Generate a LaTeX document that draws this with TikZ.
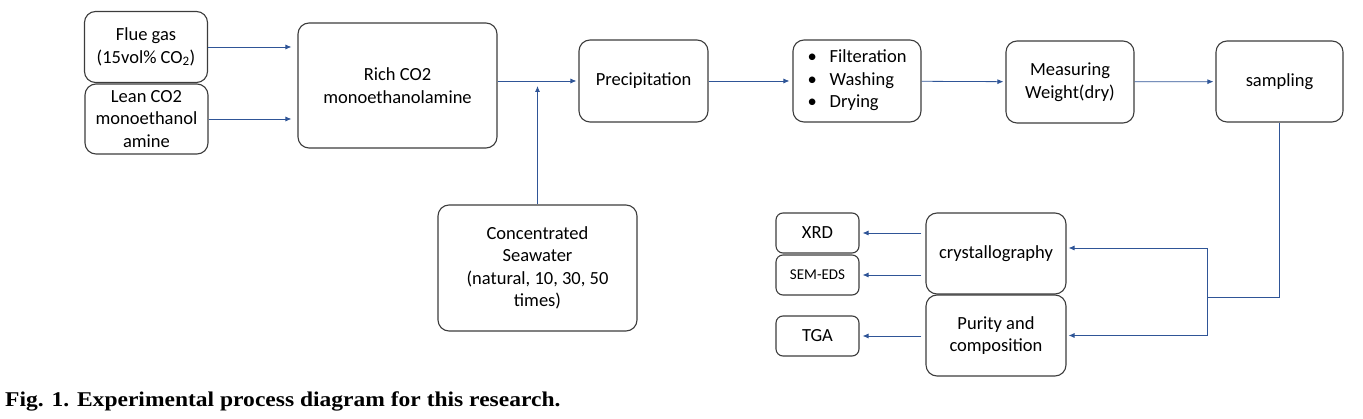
\documentclass[tikz,border=0pt]{standalone}
\usepackage{fontspec}
\setmainfont{Carlito}
\newfontfamily\capfont{Liberation Serif}
\usepackage{tikz}
\usetikzlibrary{arrows.meta,calc}
\definecolor{flowblue}{RGB}{47,85,151}
\definecolor{edge}{RGB}{60,60,60}
\tikzset{
  box/.style={draw=edge, line width=1.1pt, rounded corners=11pt, align=center, inner sep=2pt,
    font=\fontsize{18.5}{22.5}\selectfont},
  sbox/.style={box, rounded corners=7pt, minimum width=83pt, minimum height=40pt},
  flow/.style={-{Latex[length=6pt,width=5pt]}, line width=0.8pt, flowblue},
  wire/.style={line width=0.8pt, flowblue},
}

\begin{document}
\begin{tikzpicture}[x=1pt,y=-1pt]
  \useasboundingbox (0,0) rectangle (1363,419);
  \node[box, minimum width=123pt, minimum height=71pt] (flue) at (146,47) {Flue gas\\(15vol\% CO\textsubscript{2})};
  \node[box, minimum width=123pt, minimum height=70pt] (lean) at (146.5,119) {Lean CO2\\monoethanol\\amine};
  \node[box, minimum width=199pt, minimum height=125pt] (rich) at (397.5,85.5) {Rich CO2\\monoethanolamine};
  \node[box, minimum width=199pt, minimum height=126pt] (sea) at (537.5,268) {Concentrated\\Seawater\\(natural, 10, 30, 50\\times)};
  \node[box, minimum width=129pt, minimum height=82pt] (prec) at (643.5,81) {Precipitation};
  \node[box, minimum width=128pt, minimum height=82pt, align=left] (filt) at (857,81)
    {\begin{tabular}{@{}l@{\hspace{13pt}}l@{}}\textbullet & Filteration\\ \textbullet & Washing\\ \textbullet & Drying\end{tabular}};
  \node[box, minimum width=128pt, minimum height=82pt] (meas) at (1070,82) {Measuring\\Weight(dry)};
  \node[box, minimum width=127pt, minimum height=81pt] (samp) at (1279.5,81.5) {sampling};
  \node[box, minimum width=140pt, minimum height=81pt] (cryst) at (996,253.5) {crystallography};
  \node[box, minimum width=140pt, minimum height=81pt] (pur) at (996,335.5) {Purity and\\composition};
  \node[sbox] (xrd) at (817.5,233) {XRD};
  \node[sbox, font=\fontsize{15}{18}\selectfont] (sem) at (817.5,275) {SEM-EDS};
  \node[sbox] (tga) at (817.5,336) {TGA};
  \coordinate (split) at (1207,297);
  \node[anchor=west, inner sep=0pt, font=\capfont\bfseries\fontsize{21}{24}\selectfont] (cap) at (5,401)
    {\scalebox{1.12}[1]{Fig. 1. Experimental process diagram for this research.}};

  \draw[flow, shorten >=6pt] (flue.east) -- (flue.east -| rich.west);
  \draw[flow, shorten >=6pt] (lean.east) -- (lean.east -| rich.west);
  \draw[flow, shorten >=2pt] (rich.east |- prec.west) -- (prec.west);
  \draw[flow, shorten >=5pt] (sea.north) -- (sea.north |- prec.west);
  \draw[flow, shorten >=3pt] (prec) -- (filt);
  \draw[flow, shorten >=2pt] (filt) -- (meas);
  \draw[flow, shorten >=2pt] (meas) -- (samp);
  \draw[wire] (samp.south) |- (split);
  \draw[flow, shorten >=2pt] (split) |- ([yshift=5.5pt]cryst.east);
  \draw[flow, shorten >=2pt] (split) |- (pur.east);
  \draw[flow, shorten <=4pt, shorten >=3pt] (cryst.west |- xrd) -- (xrd.east);
  \draw[flow, shorten <=4pt, shorten >=3pt] (cryst.west |- sem) -- (sem.east);
  \draw[flow, shorten <=4pt, shorten >=3pt] (pur.west |- tga) -- (tga.east);
\end{tikzpicture}
\end{document}
